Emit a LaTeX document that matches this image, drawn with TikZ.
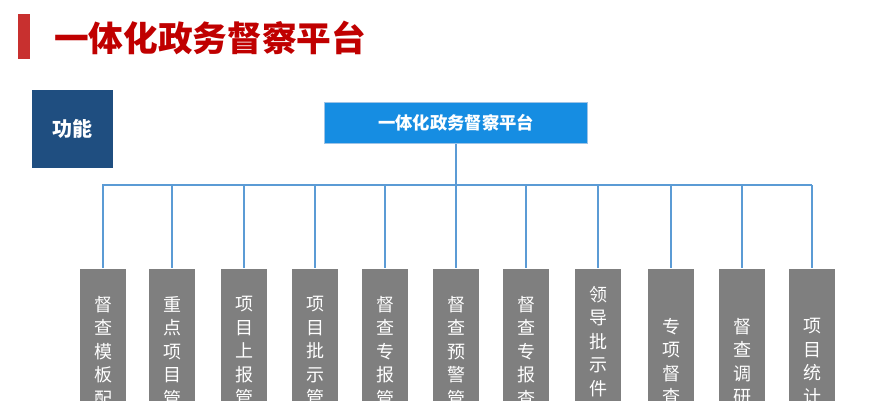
\documentclass[tikz,border=0pt]{standalone}
\usepackage{fontspec}
\setmainfont{Noto Sans CJK SC}
\begin{document}
\begin{tikzpicture}[x=0.75pt,y=-0.75pt,
  line/.style={draw=lineblue,line width=1.3pt},
  gbox/.style={fill=boxgray,draw=white,line width=0.8pt,minimum width=36pt,minimum height=110pt,anchor=north,inner sep=0pt},
  vtext/.style={text=white,font=\fontsize{13.5}{17.6}\selectfont,align=center,anchor=north,inner sep=0pt}]
\definecolor{lineblue}{HTML}{5B9BD5}
\definecolor{boxgray}{HTML}{7F7F7F}
\definecolor{titlered}{HTML}{C00000}
\definecolor{barred}{HTML}{C8302F}
\definecolor{darkblue}{HTML}{1F4E80}
\definecolor{topblue}{HTML}{168DE2}
\clip (0,0) rectangle (889,400);
\useasboundingbox (0,0) rectangle (889,400);
\fill[white] (0,0) rectangle (889,400);
\fill[barred] (18,14) rectangle (30,59);
\node[anchor=west,text=titlered,font=\bfseries\fontsize{26}{30}\selectfont,inner sep=0pt] (title) at (54,38) {一体化政务督察平台};
\node[fill=darkblue,minimum width=61pt,minimum height=58pt,inner sep=0pt,text=white,font=\bfseries\fontsize{15}{18}\selectfont] (gn) at (72.5,129) {功能};
\node[fill=topblue,draw=lineblue!60,minimum width=197pt,minimum height=31pt,inner sep=0pt,text=white,font=\bfseries\fontsize{13}{15}\selectfont] (top) at (456,123) {一体化政务督察平台};
\coordinate (hub) at (456,185);
\draw[line] (top.south) -- (hub);
\draw[line] (102,185) -- (812,185);
\foreach \i/\x/\ty/\t in {1/103/296/督\\查\\模\\板\\配, 2/172/296/重\\点\\项\\目\\管, 3/244/296/项\\目\\上\\报\\管, 4/315/296/项\\目\\批\\示\\管, 5/385/296/督\\查\\专\\报\\管, 6/456/296/督\\查\\预\\警\\管, 7/526/296/督\\查\\专\\报\\查, 8/598/286/领\\导\\批\\示\\件\\办, 9/671/318/专\\项\\督\\查, 10/742/318/督\\查\\调\\研, 11/812/318/项\\目\\统\\计}{
  \coordinate (c\i) at (\x,185);
  \node[gbox] (b\i) at (\x,268) {};
  \draw[line] (c\i) -- (b\i.north);
  \node[vtext] (t\i) at (\x,\ty) {\t};
}
\end{tikzpicture}
\end{document}
